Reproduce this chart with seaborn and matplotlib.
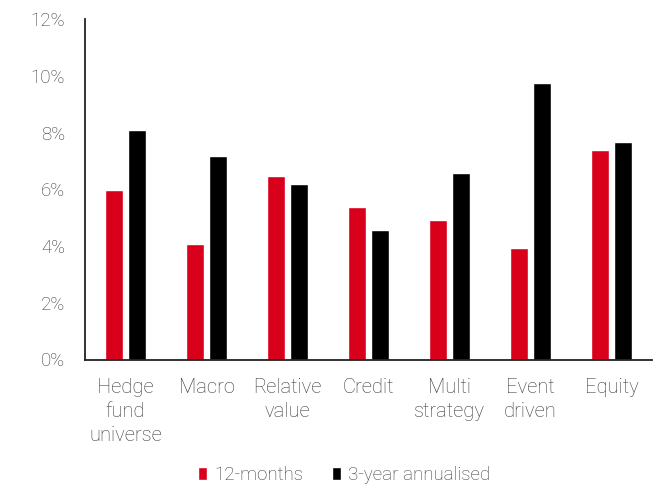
import matplotlib
matplotlib.use("Agg")
import matplotlib.pyplot as plt
import seaborn as sns
import pandas as pd
from matplotlib.ticker import FuncFormatter

# Hedge fund strategy returns (%)
categories = ["Hedge\nfund\nuniverse", "Macro", "Relative\nvalue", "Credit",
              "Multi\nstrategy", "Event\ndriven", "Equity"]
series_names = ["12-months", "3-year annualised"]
twelve_months = [5.96, 4.07, 6.47, 5.37, 4.91, 3.94, 7.38]
three_year = [8.10, 7.16, 6.17, 4.58, 6.56, 9.74, 7.68]
y_ticks = [0, 2, 4, 6, 8, 10, 12]

colors = ["#D9001B", "#000000"]
text_color = "#3a3a3a"

df = pd.DataFrame({
    "category": categories * 2,
    "series": [series_names[0]] * len(categories) + [series_names[1]] * len(categories),
    "value": twelve_months + three_year,
})

sns.set_theme(style="white")
plt.rcParams["font.family"] = ["Roboto", "DejaVu Sans"]
plt.rcParams["font.weight"] = "light"

fig = plt.figure(figsize=(6.57, 4.84), dpi=100)
ax = fig.add_axes([85 / 657, 1 - 359.5 / 484, 567 / 657, 340.5 / 484])

sns.barplot(data=df, x="category", y="value", hue="series", palette=colors,
            order=categories, hue_order=series_names, width=0.576, gap=0.215,
            saturation=1, ax=ax, legend=True)

ax.set_ylim(0, 12)
ax.set_yticks(y_ticks)
ax.yaxis.set_major_formatter(FuncFormatter(lambda v, _: f"{v:.0f}%"))
ax.set_xlabel("")
ax.set_ylabel("")
ax.tick_params(axis="both", length=0, labelcolor=text_color)
ax.tick_params(axis="y", pad=14.5, labelsize=13.5)
ax.tick_params(axis="x", pad=13, labelsize=14.5)
for lab in ax.get_xticklabels():
    lab.set_fontweight("light")
    lab.set_linespacing(1.35)
for lab in ax.get_yticklabels():
    lab.set_fontweight("light")

for side in ["top", "right"]:
    ax.spines[side].set_visible(False)
for side in ["left", "bottom"]:
    ax.spines[side].set_color("#222222")
    ax.spines[side].set_linewidth(1.3)

handles, labels = ax.get_legend_handles_labels()
ax.get_legend().remove()
leg = fig.legend(handles, labels, loc="center", bbox_to_anchor=(344 / 657, 1 - 475 / 484),
                 ncol=2, frameon=False, fontsize=13.5, handlelength=0.5,
                 handleheight=0.65, handletextpad=0.4, columnspacing=1.5)
for t in leg.get_texts():
    t.set_color(text_color)
    t.set_fontweight("light")

fig.savefig("out.png", dpi=100)
